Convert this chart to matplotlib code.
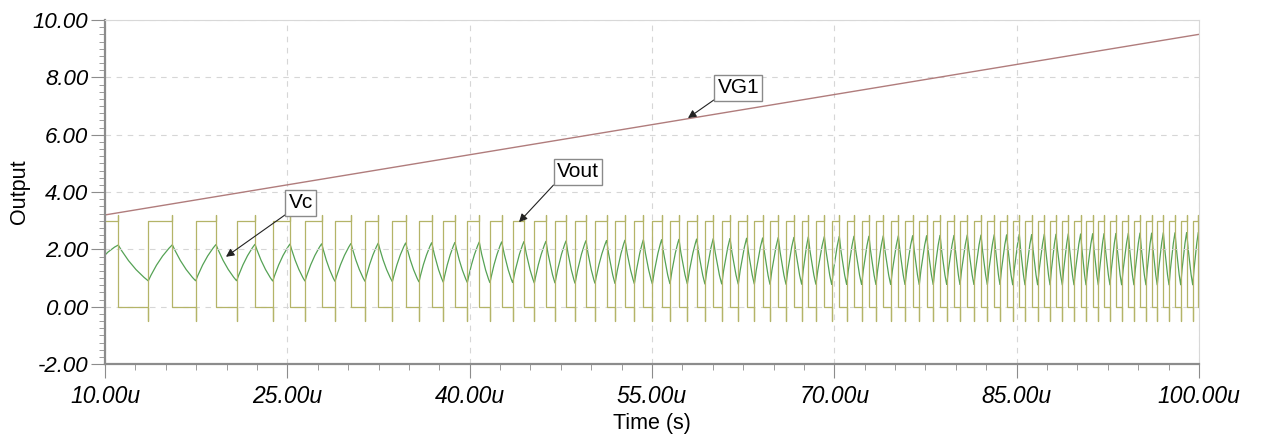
import numpy as np
import matplotlib
matplotlib.use("Agg")
import matplotlib.pyplot as plt
from matplotlib.path import Path
from matplotlib.patches import PathPatch
from matplotlib.ticker import MultipleLocator

plt.rcParams['font.family'] = ['Liberation Sans', 'DejaVu Sans']

# VG1 ramp (us, V)
vg1_t = [10.0, 100.0]
vg1_v = [3.2, 9.5]

# Vout falling edges (us) - Vc peaks happen here
fall_t = [11.09, 15.54, 19.13, 22.34, 25.22, 27.83, 30.24, 32.48, 34.74,
          36.88, 38.79, 40.79, 42.64, 44.47, 46.28, 47.93, 49.57,
          51.27, 52.78, 54.29, 55.80, 57.22, 58.68, 60.04, 61.42, 62.79, 64.11, 65.39, 66.68,
          67.86, 69.18, 70.41, 71.62, 72.85, 74.03, 75.27, 76.45, 77.60, 78.70, 79.85, 80.94,
          82.07, 83.16,
          84.18, 85.22, 86.24, 87.28, 88.24, 89.25, 90.27, 91.26, 92.19, 93.17, 94.19, 95.15,
          96.11, 97.07, 98.03, 98.99, 99.95]
# Vout rising edges (us) - Vc troughs happen here
rise_t = [13.56, 17.46, 20.83, 23.80, 26.45, 28.92, 31.39, 33.64, 35.83,
          37.83, 39.81, 41.67, 43.54, 45.32, 47.02, 48.67, 50.31,
          51.96, 53.55, 55.03, 56.48, 57.91, 59.36, 60.74, 62.10, 63.42, 64.71, 66.03, 67.32,
          68.49, 69.79, 71.02, 72.25, 73.43, 74.64, 75.82, 76.99, 78.14, 79.25, 80.34, 81.49,
          82.59, 83.63,
          84.68, 85.69, 86.73, 87.75, 88.76, 89.72, 90.71, 91.72, 92.68, 93.64, 94.65, 95.64,
          96.57, 97.54, 98.50, 99.49]

# Vc levels at the peaks / troughs
vc_peak = [2.15, 2.16, 2.17, 2.18, 2.19, 2.20, 2.21, 2.22, 2.23,
           2.24, 2.25, 2.26, 2.27, 2.28, 2.29, 2.30, 2.31,
           2.32, 2.33, 2.34, 2.35, 2.36, 2.37, 2.38, 2.39, 2.40, 2.41, 2.42, 2.43,
           2.44, 2.45, 2.46, 2.47, 2.47, 2.48, 2.48, 2.49, 2.49, 2.50, 2.50, 2.51, 2.51, 2.52,
           2.52, 2.53, 2.53, 2.54, 2.54, 2.55, 2.55, 2.56, 2.56, 2.57, 2.57, 2.58, 2.58, 2.59,
           2.59, 2.60, 2.60]
vc_trough = [0.90, 0.90, 0.90, 0.89, 0.89, 0.88, 0.88, 0.87, 0.86,
             0.85, 0.84, 0.83, 0.83, 0.82, 0.82, 0.81, 0.81,
             0.80, 0.80, 0.79, 0.79, 0.79, 0.78, 0.78, 0.78, 0.78, 0.77, 0.77, 0.77,
             0.77, 0.76, 0.76, 0.76, 0.76, 0.76, 0.76, 0.76, 0.76, 0.76, 0.76, 0.76, 0.76, 0.76,
             0.75, 0.75, 0.75, 0.75, 0.75, 0.75, 0.75, 0.75, 0.75, 0.75, 0.75, 0.75, 0.75, 0.75,
             0.75, 0.75]
vc_start = 1.8

vout_high, vout_low = 3.0, 0.0
vout_spike_hi, vout_spike_lo = 3.2, -0.5

xticks = [10, 25, 40, 55, 70, 85, 100]
yticks = [-2, 0, 2, 4, 6, 8, 10]

# label boxes: (text, box centre, arrow tip)
labels = [("VG1", (62.1, 7.63), (57.96, 6.58)),
          ("Vout", (48.9, 4.70), (44.06, 2.95)),
          ("Vc", (26.1, 3.62), (19.95, 1.74))]

c_vg1 = '#b07c7c'
c_vout = '#b4b468'
c_vc = '#55a255'

fig = plt.figure(figsize=(12.87, 4.41), dpi=100)
ax = fig.add_axes([0.0816, 0.1746, 0.850, 0.780])

# VG1
ax.plot(vg1_t, vg1_v, color=c_vg1, lw=1.0)

# Vout square wave with spikes at the edges
events = sorted([(t, 'f') for t in fall_t] + [(t, 'r') for t in rise_t])
xs, ys = [vg1_t[0]], [vout_high]
for t, kind in events:
    if kind == 'f':
        xs += [t, t, t]
        ys += [vout_high, vout_spike_hi, vout_low]
    else:
        xs += [t, t, t]
        ys += [vout_low, vout_spike_lo, vout_high]
xs.append(vg1_t[-1])
ys.append(vout_low if events[-1][1] == 'f' else vout_high)
ax.plot(xs, ys, color=c_vout, lw=0.9)

# Vc: RC-like charge / discharge between extremes, drawn as curves
ext = sorted([(t, v) for t, v in zip(fall_t, vc_peak)] +
             [(t, v) for t, v in zip(rise_t, vc_trough)])
ext = [(vg1_t[0], vc_start)] + ext
f_bend, g_bend = 0.43, 0.63
verts = [ext[0]]
codes = [Path.MOVETO]
for (t0, v0), (t1, v1) in zip(ext[:-1], ext[1:]):
    verts.append((t0 + f_bend * (t1 - t0), v0 + g_bend * (v1 - v0)))
    verts.append((t1, v1))
    codes += [Path.CURVE3, Path.CURVE3]
ax.add_patch(PathPatch(Path(verts, codes), fc='none', ec=c_vc, lw=0.9))

ax.set_xlim(10, 100)
ax.set_ylim(-2, 10)
ax.set_xticks(xticks)
ax.set_xticklabels([f"{v:.2f}u" for v in xticks], fontstyle='italic', fontsize=16.5)
ax.set_yticks(yticks)
ax.set_yticklabels([f"{v:.2f}" for v in yticks], fontstyle='italic', fontsize=16)
ax.xaxis.set_minor_locator(MultipleLocator(2.5))
ax.yaxis.set_minor_locator(MultipleLocator(0.25))
ax.tick_params(which='major', direction='out', length=10, color='#8c8c8c')
ax.tick_params(which='minor', direction='out', length=4, color='#8c8c8c')
ax.tick_params(axis='x', pad=5)
ax.tick_params(axis='y', pad=2)

ax.grid(which='major', ls=(0, (5, 5)), color='#d6d6d6', lw=0.8)
for s in ['left', 'bottom']:
    ax.spines[s].set_color('#8c8c8c')
    ax.spines[s].set_linewidth(1.6)
for s in ['top', 'right']:
    ax.spines[s].set_color('#d8d8d8')
    ax.spines[s].set_linewidth(0.8)

ax.set_xlabel("Time (s)", fontsize=15.5)
ax.set_ylabel("Output", fontsize=15.5)
ax.xaxis.set_label_coords(0.5, -0.143)
ax.yaxis.set_label_coords(-0.069, 0.5)

for text, pos, tip in labels:
    ax.annotate(text, xy=tip, xytext=pos, ha='center', va='center', fontsize=15,
                bbox=dict(boxstyle='square,pad=0.15', fc='white', ec='#8a8a8a', lw=1),
                arrowprops=dict(arrowstyle='-|>', color='#222222', lw=0.8,
                                relpos=(0, 0), shrinkA=0, shrinkB=0, mutation_scale=12))

fig.savefig("out.png", dpi=100)
